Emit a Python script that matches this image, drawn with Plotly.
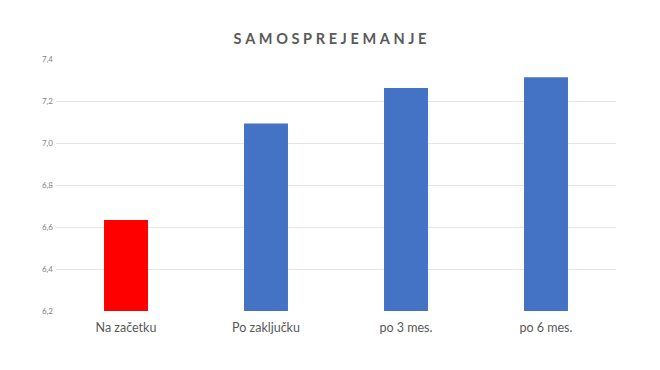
import plotly.graph_objects as go

categories = ["Na začetku", "Po zaključku", "po 3 mes.", "po 6 mes."]
values = [6.633, 7.093, 7.262, 7.313]
colors = ["#FF0000", "#4472C4", "#4472C4", "#4472C4"]
tick_vals = [6.2, 6.4, 6.6, 6.8, 7.0, 7.2, 7.4]
title_text = "SAMOSPREJEMANJE"

fig = go.Figure(go.Bar(
    x=categories, y=values, marker=dict(color=colors, line=dict(width=0)),
    width=0.314,
))

spaced = "\u2009\u2009".join(title_text)

fig.update_layout(
    width=660, height=370,
    margin=dict(l=48, r=52, t=51, b=67),
    paper_bgcolor="white", plot_bgcolor="white",
    separators=", ",
    showlegend=False,
    font=dict(family="Lato", color="#595959"),
    title=dict(text="<b>" + spaced + "</b>", x=(330 - 8) / 660, xanchor="center", y=1 - 31/370, yref="container",
               yanchor="middle", font=dict(size=14.5, color="#595959"), automargin=False),
    xaxis=dict(showgrid=False, showline=False, zeroline=False, ticks="", automargin=False,
               tickfont=dict(size=12.5, color="#595959"), ticklabelstandoff=7),
    yaxis=dict(range=[6.2, 7.4], tickvals=tick_vals, tickformat=".1f", automargin=False,
               showgrid=True, gridcolor="#E5E5E5", gridwidth=1, zeroline=False,
               showline=False, ticks="", tickfont=dict(size=8, color="#7f7f7f"),
               ticklabelstandoff=2),
)
fig.write_html("out.html")
